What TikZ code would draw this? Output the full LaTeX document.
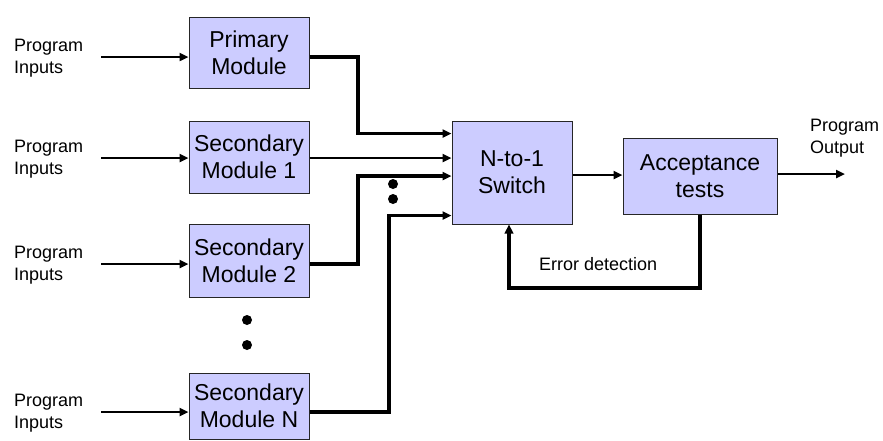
\documentclass[tikz,border=0pt]{standalone}
\usepackage{fontspec}
\setmainfont{Liberation Sans}
\usetikzlibrary{arrows.meta,calc}
\begin{document}
\begin{tikzpicture}[x=1pt,y=-1pt,
  box/.style={draw=black!85,line width=1pt,fill={rgb,255:red,204;green,204;blue,255},
    align=center,inner sep=0pt,font=\fontsize{23}{27}\selectfont},
  lbl/.style={align=left,inner sep=0pt,font=\fontsize{18}{22}\selectfont},
  arr/.style={line width=2.3pt,-{Triangle[length=9pt,width=8pt]}},
  tharr/.style={line width=3.5pt,-{Triangle[length=9pt,width=8pt]}},
  dot/.style={circle,fill=black,inner sep=0pt,minimum size=10pt}]
\useasboundingbox (0,0) rectangle (883,440);

% modules
\node[box,minimum width=120pt,minimum height=71pt] (prim) at (249,52.5) {Primary\\Module};
\node[box,minimum width=120pt,minimum height=72pt] (sec1) at (249,157) {Secondary\\Module 1};
\node[box,minimum width=120pt,minimum height=73pt] (sec2) at (249,260.5) {Secondary\\Module 2};
\node[box,minimum width=120pt,minimum height=66pt] (secn) at (249,406) {Secondary\\Module N};

% switch and acceptance test
\node[box,minimum width=120pt,minimum height=103pt] (sw) at (512,172.5) {N-to-1\\Switch};
\node[box,minimum width=154pt,minimum height=76pt] (acc) at (700,176) {Acceptance\\tests};

% program inputs
\node[lbl,anchor=west] (in1) at (14,58) {Program\\Inputs};
\node[lbl,anchor=west] (in2) at (14,159) {Program\\Inputs};
\node[lbl,anchor=west] (in3) at (14,265) {Program\\Inputs};
\node[lbl,anchor=west] (in4) at (14,413) {Program\\Inputs};
\draw[arr] (101,57) coordinate (s1) -- (prim.west |- s1);
\draw[arr] (101,158) coordinate (s2) -- (sec1.west |- s2);
\draw[arr] (101,264) coordinate (s3) -- (sec2.west |- s3);
\draw[arr] (101,412) coordinate (s4) -- (secn.west |- s4);

% module outputs into the switch
\coordinate (p1) at (358,57);
\coordinate (p2) at (358,264);
\coordinate (p3) at (389,412);
\draw[tharr] (prim.east |- p1) -- (p1) |- ([yshift=-13pt]sw.north west);
\draw[arr] (sec1.east |- 0,158) -- (sw.west |- 0,158);
\draw[tharr] (sec2.east |- p2) -- (p2) |- (sw.west |- 0,176);
\draw[tharr] (secn.east |- p3) -- (p3) |- ([yshift=9pt]sw.south west);

% ellipsis dots
\node[dot] (d1) at (393,184) {};
\node[dot] (d2) at (393,199) {};
\node[dot] (d3) at (247,320) {};
\node[dot] (d4) at (247,345) {};

% switch to acceptance test, and program output
\draw[arr] (sw.east |- acc.west) ++(0,-1) coordinate (a0) -- (acc.west |- a0);
\coordinate (out) at (845,174);
\draw[arr] (acc.east |- out) -- (out);
\node[lbl,anchor=west] (outl) at (810,138) {Program\\Output};

% error detection feedback
\coordinate (f1) at (700,288);
\coordinate (f2) at (509,288);
\draw[line width=3.5pt,-{Triangle[length=9pt,width=8.5pt]}] (acc.south) -- (f1) -- (f2) -- (sw.south -| f2);
\node[lbl,anchor=base west] (err) at (539,270) {Error detection};
\end{tikzpicture}
\end{document}
